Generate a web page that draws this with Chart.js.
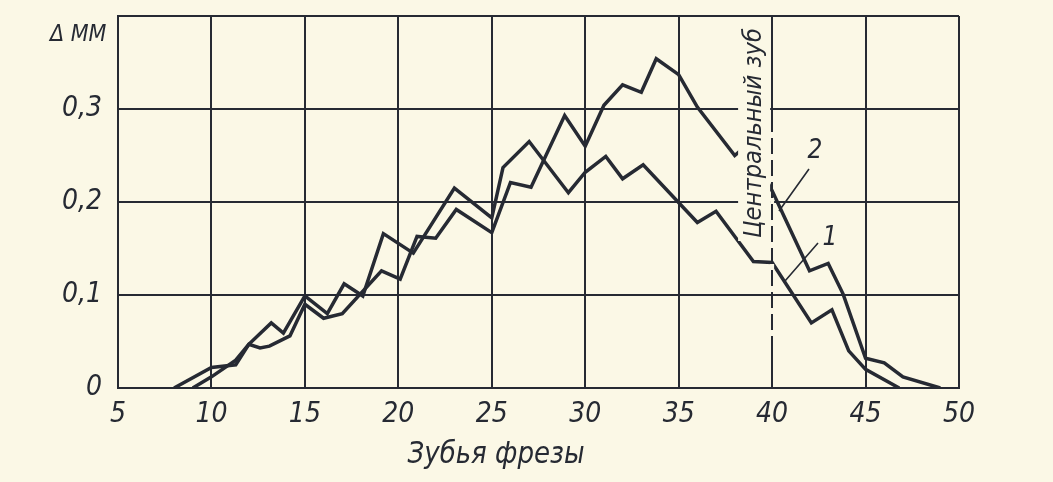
<!DOCTYPE html>
<html>
<head>
<meta charset="utf-8">
<script src="https://cdn.jsdelivr.net/npm/chart.js@4"></script>
<style>
  html, body { margin: 0; padding: 0; background: #fbf8e6; }
  canvas { display: block; }
</style>
</head>
<body>
<canvas id="c" width="1053" height="482"></canvas>
<script>
// ---- data ----
const xTickValues = [5, 10, 15, 20, 25, 30, 35, 40, 45, 50];
const yTickValues = [0, 0.1, 0.2, 0.3, 0.4];
const xTitle = 'Зубья фрезы';
const yTitle = 'Δ ММ';
const centerLabel = 'Центральный зуб';
const centerTooth = 40;

// curve "1"
const curve1X = [8, 10, 11.3, 12, 13.2, 13.85, 15, 16.2, 17.1, 18.1, 19.2, 20.8, 23, 25, 25.6, 27, 29.1, 30, 31.1, 32, 33.1, 36, 37, 39, 40, 42.1, 43.2, 44.1, 45, 46.8];
const curve1Y = [0, 0.022, 0.025, 0.047, 0.07, 0.059, 0.099, 0.08, 0.112, 0.099, 0.166, 0.145, 0.215, 0.183, 0.237, 0.265, 0.21, 0.232, 0.249, 0.225, 0.24, 0.178, 0.19, 0.136, 0.135, 0.07, 0.084, 0.04, 0.02, 0];

// curve "2"
const curve2X = [9, 10, 11.3, 12, 12.6, 13.1, 14.2, 15, 16, 17, 19.1, 20.1, 21, 22, 23.1, 25, 26, 27.1, 28.9, 30, 31, 32, 33, 33.8, 35, 36, 38, 38.7, 40, 42, 43, 43.8, 45, 46, 47, 49];
const curve2Y = [0, 0.012, 0.03, 0.047, 0.043, 0.045, 0.056, 0.09, 0.075, 0.08, 0.126, 0.117, 0.163, 0.161, 0.192, 0.167, 0.221, 0.216, 0.293, 0.26, 0.304, 0.326, 0.318, 0.354, 0.337, 0.302, 0.25, 0.262, 0.212, 0.126, 0.134, 0.101, 0.032, 0.027, 0.012, 0];

// ---- styling ----
const PAPER = '#fbf8e6';
const INK = '#262a33';
const FONT = '"Liberation Sans Narrow", "DejaVu Sans Condensed", "Liberation Sans", sans-serif';

const toPts = (xs, ys) => xs.map((x, i) => ({ x: x, y: ys[i] }));

const decor = {
  id: 'decor',
  beforeDraw(chart) {
    const ctx = chart.ctx;
    ctx.save();
    ctx.fillStyle = PAPER;
    ctx.fillRect(0, 0, chart.width, chart.height);
    ctx.restore();
  },
  afterDatasetsDraw(chart) {
    const ctx = chart.ctx;
    const xs = chart.scales.x, ys = chart.scales.y;
    const x40 = xs.getPixelForValue(centerTooth);
    const top = ys.getPixelForValue(0.4);
    ctx.save();
    // background behind the rotated label (interrupts grid and curve)
    ctx.fillStyle = PAPER;
    ctx.fillRect(x40 - 34, top + 7, 32, 218);
    // dashed part of the centre-tooth line
    for (let y = top + 116; y < ys.getPixelForValue(0.06); y += 22) {
      ctx.fillRect(x40 - 2, y, 4, 6);
    }
    ctx.fillStyle = INK;
    ctx.strokeStyle = INK;
    // rotated label
    ctx.save();
    ctx.translate(x40 - 11, top + 222);
    ctx.rotate(-Math.PI / 2);
    ctx.font = 'italic 25px ' + FONT;
    ctx.textBaseline = 'alphabetic';
    ctx.textAlign = 'left';
    const w = ctx.measureText(centerLabel).width;
    ctx.scale(210 / w, 1);
    ctx.fillText(centerLabel, 0, 0);
    ctx.restore();
    // leader lines and curve numbers
    ctx.lineWidth = 1.6;
    ctx.beginPath();
    ctx.moveTo(809, 169); ctx.lineTo(779, 211);
    ctx.moveTo(818, 243); ctx.lineTo(785, 281);
    ctx.stroke();
    ctx.font = 'italic 26px ' + FONT;
    ctx.textAlign = 'center';
    ctx.textBaseline = 'middle';
    ctx.fillText('2', 815, 151);
    ctx.fillText('1', 830, 238);
    // y title
    ctx.font = 'italic 23px ' + FONT;
    ctx.textAlign = 'left';
    ctx.fillText(yTitle, 50, 35);
    // x title
    ctx.font = 'italic 30px ' + FONT;
    ctx.textAlign = 'center';
    const tw = ctx.measureText(xTitle).width;
    ctx.translate(496, 455);
    ctx.scale(177 / tw, 1);
    ctx.fillText(xTitle, 0, 0);
    ctx.restore();
  }
};

const lineStyle = {
  borderColor: INK,
  borderWidth: 3.5,
  pointRadius: 0,
  tension: 0,
  fill: false
};

new Chart(document.getElementById('c'), {
  type: 'line',
  data: {
    datasets: [
      Object.assign({ label: '1', data: toPts(curve1X, curve1Y) }, lineStyle),
      Object.assign({ label: '2', data: toPts(curve2X, curve2Y) }, lineStyle)
    ]
  },
  options: {
    responsive: false,
    animation: false,
    devicePixelRatio: 1,
    layout: { padding: { left: 0, right: 94, top: 16, bottom: 0 } },
    plugins: { legend: { display: false }, tooltip: { enabled: false } },
    scales: {
      x: {
        type: 'linear',
        min: xTickValues[0],
        max: xTickValues[xTickValues.length - 1],
        afterBuildTicks: s => { s.ticks = xTickValues.map(v => ({ value: v })); },
        afterFit: s => { s.height = 94; s.paddingLeft = 0; s.paddingRight = 0; },
        ticks: {
          color: INK,
          padding: 10,
          font: { family: FONT, size: 28, style: 'italic' },
          callback: v => String(v)
        },
        grid: { color: INK, lineWidth: 2, drawTicks: false },
        border: { color: INK, width: 2 }
      },
      y: {
        type: 'linear',
        min: yTickValues[0],
        max: yTickValues[yTickValues.length - 1],
        afterBuildTicks: s => { s.ticks = yTickValues.map(v => ({ value: v })); },
        afterFit: s => { s.width = 118; s.paddingTop = 0; s.paddingBottom = 0; },
        ticks: {
          color: INK,
          padding: 16,
          font: { family: FONT, size: 28, style: 'italic' },
          callback: v => {
            const r = Math.round(v * 10) / 10;
            if (r === 0) return '0';
            if (r >= 0.4) return '';
            return r.toFixed(1).replace('.', ',');
          }
        },
        grid: { color: INK, lineWidth: 2, drawTicks: false },
        border: { color: INK, width: 2 }
      }
    }
  },
  plugins: [decor]
});
</script>
</body>
</html>
